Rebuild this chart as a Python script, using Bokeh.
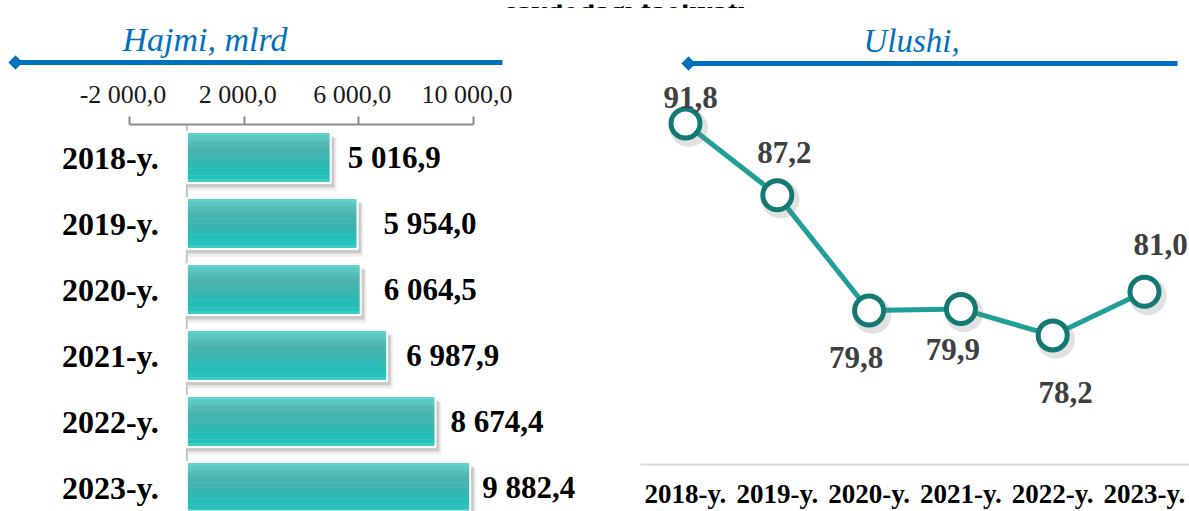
from bokeh.plotting import figure
from bokeh.models import ColumnDataSource, Range1d, FixedTicker, Span, Label, PolyAnnotation, Arrow
from bokeh.layouts import row, column
from bokeh.transform import dodge
from bokeh.core.properties import value
from bokeh.embed import file_html
from bokeh.resources import INLINE

# ---------------- data ----------------
years = ["2018-y.", "2019-y.", "2020-y.", "2021-y.", "2022-y.", "2023-y."]
volume = [5016.9, 5954.0, 6064.5, 6987.9, 8674.4, 9882.4]
share = [91.8, 87.2, 79.8, 79.9, 78.2, 81.0]
volume_ticks = [-2000, 2000, 6000, 10000]
volume_tick_labels = ["-2 000,0", "2 000,0", "6 000,0", "10 000,0"]
header_text = "savdodagi faoliyati"
left_title = "Hajmi, mlrd"
right_title = "Ulushi,"


def fmt(v):
    return f"{v:,.1f}".replace(",", " ").replace(".", ",")


# ---------------- style ----------------
FONT = "Liberation Serif"
BLUE = "#0070C0"
TEAL_LINE = "#1f9f98"
TEAL_DARK = "#127a73"
LW, RW = 628, 561
HEAD_H = 8
H = 511 - HEAD_H
LHEAD_H = 66
LH = H - LHEAD_H
NBSP2 = "\u00a0\u00a0"  # nudges tick labels slightly left of their ticks, as in the original

# label pixel offsets (style)
vol_label_off = [17, 26, 23, 19, 15, 12]
share_dx = [5, 7, -13, -8, 13, 16]
share_dy = [-26, -43, 47, 41, 57, -47]


def plain_fig(w, h, **kw):
    f = figure(width=w, height=h, output_backend="svg", toolbar_location=None,
               min_border=0, outline_line_color=None, x_axis_location=None,
               y_axis_location=None, frame_align=False, **kw)
    f.grid.visible = False
    return f


# ---------------- left header (title + blue rule) ----------------
lhead = plain_fig(LW, LHEAD_H, x_range=Range1d(0, LW), y_range=Range1d(LHEAD_H, 0))
lhead.add_layout(Label(x=122, y=31, text=left_title, text_font=FONT,
                       text_font_style="italic", text_font_size="34px",
                       text_color=BLUE, text_baseline="alphabetic"))
lhead.add_layout(Arrow(start=None, end=None, x_start=15, y_start=54, x_end=502,
                       y_end=54, line_color=BLUE, line_width=5))
dcx, dcy, dr = 15, 54, 7
lhead.add_layout(PolyAnnotation(xs=[dcx - dr, dcx, dcx + dr, dcx],
                                ys=[dcy, dcy - dr, dcy, dcy + dr],
                                fill_color=BLUE, fill_alpha=1, line_color=BLUE))

# ---------------- left panel ----------------
lx0, lx1 = 129, 473
upx = 12000 / (lx1 - lx0)


def LX(cx):
    return -2000 + (cx - lx0) * upx


ltop, row_px = 50, 66


def LY(cy):
    return -0.5 + (cy - ltop) / row_px


left = figure(width=LW, height=LH, x_range=Range1d(LX(0), LX(LW)),
              y_range=Range1d(LY(LH), -0.5), x_axis_location="above",
              y_axis_location=None, output_backend="svg", toolbar_location=None,
              min_border_left=0, min_border_right=0, min_border_bottom=0,
              min_border_top=ltop, outline_line_color=None, frame_align=False)
left.grid.visible = False
ax = left.xaxis[0]
ax.ticker = FixedTicker(ticks=volume_ticks)
ax.bounds = (-2000, 10000)
ax.major_label_overrides = {t: l + NBSP2 for t, l in zip(volume_ticks, volume_tick_labels)}
ax.axis_line_color = "#8c8c8c"
ax.axis_line_width = 2
ax.major_tick_line_color = "#8c8c8c"
ax.major_tick_line_width = 2
ax.major_tick_out = 8
ax.major_tick_in = 0
ax.minor_tick_line_color = None
ax.major_label_text_font = FONT
ax.major_label_text_font_size = "26px"
ax.major_label_text_color = "#1a1a1a"
ax.major_label_standoff = 8

left.add_layout(Span(location=0, dimension="height", line_color="#c4c4c4",
                     line_width=2, level="underlay"))

lsrc = ColumnDataSource(dict(y=list(range(len(years))), value=volume,
                             label=[fmt(v) for v in volume], name=years,
                             loff=vol_label_off))
BH = 0.77
# shadows
left.hbar(y=dodge("y", 0.1, range=left.y_range), left=40,
          right=dodge("value", 200, range=left.x_range), height=BH + 0.03,
          source=lsrc, fill_color="#9a9a9a", fill_alpha=0.18, line_color=None)
left.hbar(y=dodge("y", 0.07, range=left.y_range), left=40,
          right=dodge("value", 130, range=left.x_range), height=BH,
          source=lsrc, fill_color="#8a8a8a", fill_alpha=0.35, line_color=None)


def lerp(c1, c2, t):
    a = [int(c1[i:i + 2], 16) for i in (1, 3, 5)]
    b = [int(c2[i:i + 2], 16) for i in (1, 3, 5)]
    return "#" + "".join(f"{round(a[k] + (b[k] - a[k]) * t):02x}" for k in range(3))


stops = [(0.0, "#66dbd5"), (0.08, "#5ccbc6"), (0.3, "#4db4af"), (0.55, "#3bb4af"),
         (0.75, "#22bdb7"), (0.9, "#27c1bb"), (1.0, "#48d0ca")]


def grad(t):
    for (t0, c0), (t1, c1) in zip(stops[:-1], stops[1:]):
        if t <= t1:
            return lerp(c0, c1, (t - t0) / (t1 - t0))
    return stops[-1][1]


N = 14
for i in range(N):
    t = (i + 0.5) / N
    off = -BH / 2 + t * BH
    left.hbar(y=dodge("y", off, range=left.y_range), left=0, right="value",
              height=BH / N * 1.1, source=lsrc, fill_color=grad(t), line_color=None)
left.hbar(y="y", left=0, right="value", height=BH, source=lsrc,
          fill_color=None, line_color="white", line_width=2)

left.text(x="value", y="y", text="label", x_offset="loff", source=lsrc,
          text_font=value(FONT), text_font_style="bold", text_font_size="31px",
          text_align="left", text_baseline="middle", text_color="#000000")
left.text(x=0, y="y", text="name", x_offset=-28, source=lsrc,
          text_font=value(FONT), text_font_style="bold", text_font_size="32px",
          text_align="right", text_baseline="middle", text_color="#000000")

# ---------------- right panel ----------------
rx0, rdx = 57, 91.8


def RX(cx):
    return (cx - rx0) / rdx


ry_ref, rpx = 115, 15.58


def RY(cy):
    return 91.8 - (cy - ry_ref) / rpx


RB = 47
rbottom = H - RB
right = figure(width=RW, height=H, x_range=Range1d(RX(0), RX(RW)),
               y_range=Range1d(RY(rbottom), RY(0)), y_axis_location=None,
               output_backend="svg", toolbar_location=None,
               min_border_left=0, min_border_right=0, min_border_top=0,
               min_border_bottom=RB, outline_line_color=None,
               frame_align=False)
right.grid.visible = False
bx = right.xaxis[0]
bx.ticker = FixedTicker(ticks=list(range(len(years))))
bx.major_label_overrides = {i: y for i, y in enumerate(years)}
bx.bounds = (RX(12), RX(RW))
bx.axis_line_color = "#d9d9d9"
bx.axis_line_width = 2
bx.major_tick_line_color = None
bx.minor_tick_line_color = None
bx.major_label_text_font = FONT
bx.major_label_text_font_style = "bold"
bx.major_label_text_font_size = "27px"
bx.major_label_text_color = "#000000"
bx.major_label_standoff = 8

rsrc = ColumnDataSource(dict(x=list(range(len(years))), y=share,
                             label=[fmt(v) for v in share], dx=share_dx, dy=share_dy))
right.line(x="x", y="y", source=rsrc, line_color=TEAL_LINE, line_width=5)
right.scatter(x=dodge("x", 0.035, range=right.x_range), y=dodge("y", -0.28, range=right.y_range),
              source=rsrc, size=38, fill_color="#777777", fill_alpha=0.22, line_color=None)
right.scatter(x="x", y="y", source=rsrc, size=29, fill_color="white",
              line_color=TEAL_DARK, line_width=5)
right.text(x="x", y="y", text="label", x_offset="dx", y_offset="dy", source=rsrc,
           text_font=value(FONT), text_font_style="bold", text_font_size="31px",
           text_align="center", text_baseline="middle", text_color="#404040")

right.add_layout(Label(x=RX(235), y=RY(32), text=right_title, text_font=FONT,
                       text_font_style="italic", text_font_size="33px",
                       text_color=BLUE, text_baseline="alphabetic"))
right.add_layout(Arrow(start=None, end=None, x_start=RX(60), y_start=RY(55),
                       x_end=RX(549), y_end=RY(55), line_color=BLUE, line_width=5))
rcx, rcy = 60, 55
right.add_layout(PolyAnnotation(xs=[RX(rcx - dr), RX(rcx), RX(rcx + dr), RX(rcx)],
                                ys=[RY(rcy), RY(rcy - dr), RY(rcy), RY(rcy + dr)],
                                fill_color=BLUE, fill_alpha=1, line_color=BLUE))

# ---------------- header (mostly cut off at the top, as in the original) ----------------
head = plain_fig(LW + RW, HEAD_H, x_range=Range1d(0, LW + RW), y_range=Range1d(HEAD_H, 0))
head.add_layout(Label(x=625, y=6, text=header_text, text_font=FONT,
                      text_font_style="bold", text_font_size="30px",
                      text_align="center", text_baseline="alphabetic",
                      text_color="#000000"))

layout = column(head, row(column(lhead, left), right))
open("out.html", "w").write(file_html(layout, INLINE))
